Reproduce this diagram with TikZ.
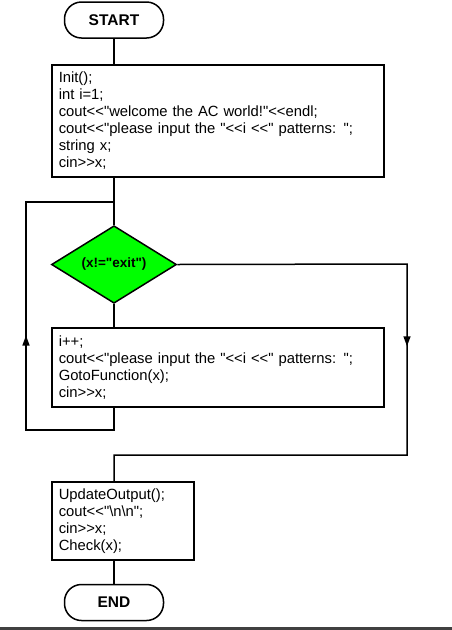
\documentclass[tikz,border=0pt]{standalone}
\usepackage{fontspec}
\setmainfont{Liberation Sans}[Ligatures=TeXOff]
\usepackage{tikz}
\usetikzlibrary{arrows.meta}
\usetikzlibrary{positioning}
\usetikzlibrary{shapes}
\usetikzlibrary{decorations.markings}
\definecolor{condgreen}{RGB}{0,255,0}
\newcommand{\code}{\fontsize{14.8}{17}\selectfont}

\begin{document}
\begin{tikzpicture}[x=1pt,y=-1pt,font=\code,
                term/.style={rectangle, rounded corners=17pt, draw, line width=1.5pt, minimum width=99pt, minimum height=36pt, font=\fontsize{15.5}{17}\selectfont\bfseries},
                block/.style={rectangle, draw, line width=1.5pt, text ragged, align=left, anchor=north west, inner xsep=7pt, inner ysep=0pt},
                decide/.style={diamond, draw, line width=1.5pt, fill=condgreen, minimum width=125pt, minimum height=73pt, inner sep=0pt, font=\fontsize{13.5}{15}\selectfont\bfseries},
                line/.style={draw, line width=1.5pt},
                arrowat/.style={postaction={decorate, decoration={markings, mark=at position #1 with {\arrow{Triangle[length=10pt,width=7pt]}}}}}
            ]
            \useasboundingbox (0,0) rectangle (452,630);
            \fill[black!75] (0,627) rectangle (452,630);
            \node[term](start) at (114,20){START};
            \node[block, text width=318pt, minimum height=112pt](init) at (51,64){Init();\\int i=1;\\cout<<"welcome the AC world!"<<endl;\\cout<<"please input the "<<i <<" patterns: ";\\string x;\\cin>>x;};
            \node[decide](cond) at (114,264.5){(x!="exit")};
            \node[block, text width=318pt, minimum height=79pt](body) at (51,327){i++;\\cout<<"please input the "<<i <<" patterns: ";\\GotoFunction(x);\\cin>>x;};
            \node[block, text width=128pt, minimum height=78pt](update) at (51,481){UpdateOutput();\\cout<<"\textbackslash n\textbackslash n";\\cin>>x;\\Check(x);};
            \node[term](end) at (114,602.5){END};
            \coordinate (join) at (114,202);
            \coordinate (loopl) at (26,430);
            \coordinate (exitr) at (407,264);
            \coordinate (exitb) at (114,455);
            \path[line] (start) -- (start |- init.north);
            \path[line] (init.south -| join) -- (cond.north);
            \path[line] (cond.south) -- (cond.south |- body.north);
            \path[line, arrowat=205pt] (cond.south |- body.south) |- (loopl) |- (join);
            \path[line, arrowat=312pt] (cond.east) -- (exitr) |- (exitb) -- (exitb |- update.north);
            \path[line] (cond.south |- update.south) -- (end);
        \end{tikzpicture}
\end{document}
